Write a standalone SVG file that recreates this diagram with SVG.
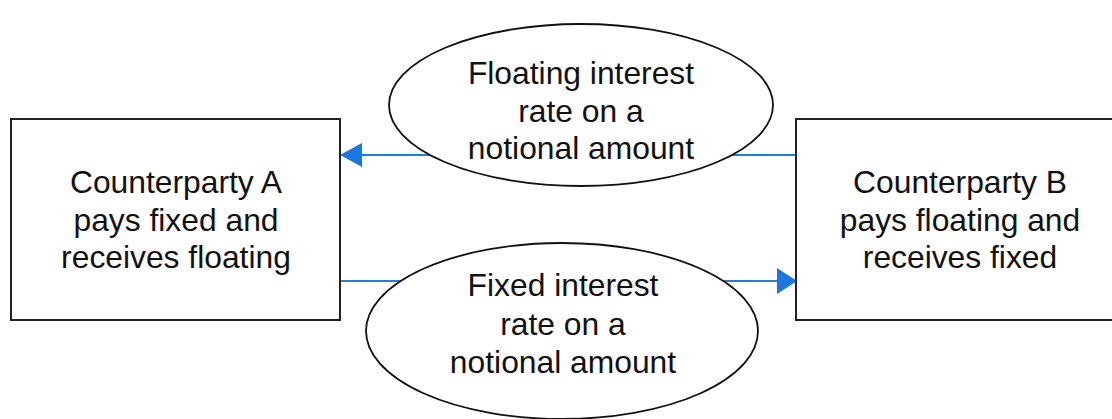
<svg xmlns="http://www.w3.org/2000/svg" width="1112" height="419" viewBox="0 0 1112 419">
  <style>
    .box { fill: #ffffff; stroke: #222222; stroke-width: 2; }
    .oval { fill: #ffffff; stroke: #111111; stroke-width: 1.8; }
    .label { font-family: "Liberation Sans", Arial, sans-serif; font-size: 31.8px; fill: #111111; text-anchor: middle; }
    .flow { stroke: #1f7fe0; stroke-width: 2; fill: none; }
    .head { fill: #1a78e0; }
  </style>
  <rect width="1112" height="419" fill="#ffffff"/>

  <!-- payment flows between the counterparties -->
  <g id="connectors">
    <line class="flow" x1="796" y1="155" x2="360" y2="155"/>
    <polygon class="head" points="340,155 362,143 362,167"/>
    <line class="flow" x1="340" y1="281" x2="778" y2="281"/>
    <polygon class="head" points="797,281 777,268 777,294"/>
  </g>

  <g id="counterparty-a">
    <rect class="box" x="11" y="119" width="329" height="201"/>
    <text class="label" x="176" y="193">Counterparty A</text>
    <text class="label" x="176" y="230.5">pays fixed and</text>
    <text class="label" x="176" y="268">receives floating</text>
  </g>

  <g id="counterparty-b">
    <rect class="box" x="796" y="119" width="330" height="201"/>
    <text class="label" x="960" y="193">Counterparty B</text>
    <text class="label" x="960" y="230.5">pays floating and</text>
    <text class="label" x="960" y="268">receives fixed</text>
  </g>

  <g id="floating-leg">
    <ellipse class="oval" cx="581" cy="105" rx="192" ry="81"/>
    <text class="label" x="581" y="84">Floating interest</text>
    <text class="label" x="581" y="122">rate on a</text>
    <text class="label" x="581" y="159">notional amount</text>
  </g>

  <g id="fixed-leg">
    <ellipse class="oval" cx="562" cy="331" rx="196" ry="88"/>
    <text class="label" x="563" y="296">Fixed interest</text>
    <text class="label" x="563" y="335">rate on a</text>
    <text class="label" x="563" y="373">notional amount</text>
  </g>
</svg>
